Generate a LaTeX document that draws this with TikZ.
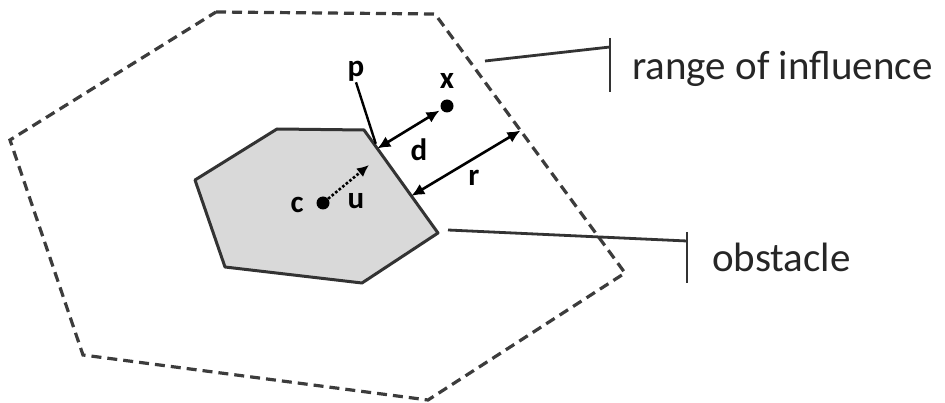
\documentclass[tikz,border=0pt]{standalone}
\usepackage{fontspec}
\setmainfont{Carlito}
\usetikzlibrary{arrows.meta,positioning,calc}
\definecolor{edgegray}{HTML}{333333}
\definecolor{dashgray}{HTML}{3C3C3C}
\definecolor{obstfill}{HTML}{D9D9D9}
\definecolor{calloutgray}{HTML}{262626}
\tikzset{
  rangeline/.style={draw=dashgray, line width=3.2pt, dash pattern=on 10pt off 6pt},
  obstshape/.style={draw=edgegray, fill=obstfill, line width=3pt, line join=round},
  dimarrow/.style={{Latex[length=13pt,width=12pt]}-{Latex[length=13pt,width=12pt]}, line width=2.6pt},
  dirarrow/.style={-{Latex[length=12pt,width=11pt]}, line width=2.6pt, dash pattern=on 2.6pt off 2pt},
  leader/.style={draw=edgegray, line width=2.8pt},
  dot/.style={circle, fill, inner sep=0pt, minimum size=13pt},
  symlabel/.style={font=\fontsize{31}{31}\selectfont\bfseries, inner sep=1pt},
  callout/.style={font=\fontsize{41}{41}\selectfont, text=calloutgray, inner sep=0pt, anchor=base west}
}

\begin{document}
\begin{tikzpicture}[x=1pt,y=-1pt]
  \useasboundingbox (0,0) rectangle (945,403);

  % range of influence
  \draw[rangeline] (216,12) coordinate (r1) -- (435,14) coordinate (r2)
    -- (625,273) coordinate (r3) -- (428,400) coordinate (r4)
    -- (83,355) coordinate (r5) -- (10,140) coordinate (r6) -- cycle;

  % obstacle
  \draw[obstshape] (195,180) coordinate (o1) -- (277,129) coordinate (o2)
    -- (364,130) coordinate (o3) -- (438,233) coordinate (o4)
    -- (362,283) coordinate (o5) -- (225,267) coordinate (o6) -- cycle;

  \coordinate (p) at ($(o3)!0.18!(o4)$);
  \coordinate (rin) at ($(o3)!0.64!(o4)$);
  \coordinate (rout) at ($(r2)!0.45!(r3)$);

  \node[dot] (cdot) at (323,203) {};
  \node[symlabel] (clbl) at (297,205) {c};
  \node[symlabel] (ulbl) at (356,201) {u};
  \coordinate (utip) at (369,165);
  \draw[dirarrow] (cdot) -- (utip);

  \node[dot] (xdot) at (447,106) {};
  \node[symlabel] (xlbl) at (447,81) {x};
  \node[symlabel] (plbl) at (356,71) {p};
  \draw[line width=2.4pt, shorten >=5pt] (plbl.south) -- (p);

  \draw[dimarrow, shorten >=2pt] (p) -- (xdot);
  \node[symlabel] (dlbl) at (419,150) {d};
  \draw[dimarrow] (rin) -- (rout);
  \node[symlabel] (rlbl) at (474,178) {r};

  % callouts
  \coordinate (rangefoot) at (485,61);
  \coordinate (rangebar) at (610,47);
  \draw[leader] (rangefoot) -- (rangebar);
  \draw[leader] ($(rangebar)+(0,-9)$) -- ($(rangebar)+(0,45)$);
  \node[callout] (rangelbl) at (632,80) {range of influence};

  \coordinate (obstfoot) at (448,230);
  \coordinate (obstbar) at (687,241);
  \draw[leader] (obstfoot) -- (obstbar);
  \draw[leader] ($(obstbar)+(0,-9)$) -- ($(obstbar)+(0,42)$);
  \node[callout] (obstlbl) at (712,272) {obstacle};
\end{tikzpicture}
\end{document}
